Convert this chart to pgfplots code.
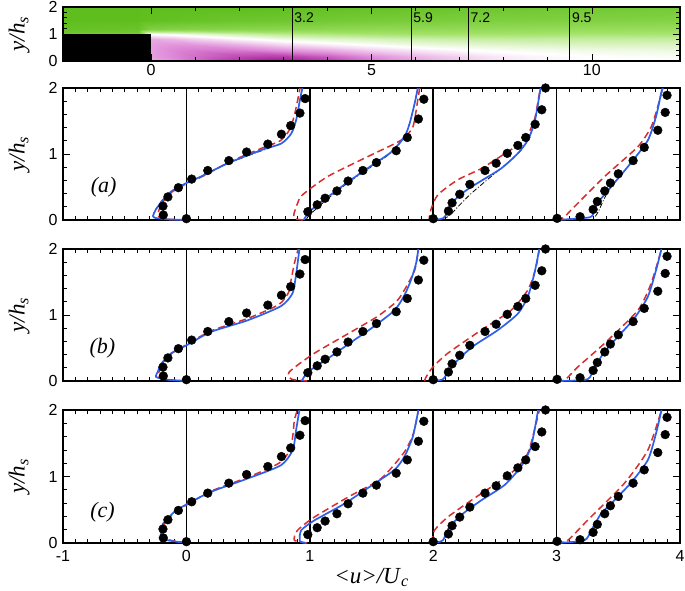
\documentclass[border=0pt]{standalone}
\usepackage{fontspec}
\setmainfont{Liberation Serif}
\setsansfont{Liberation Sans}
\usepackage{pgfplots}
\usepackage{pgfplotstable}
\pgfplotsset{compat=1.18}
\definecolor{bl}{RGB}{45,95,235}
\definecolor{rd}{RGB}{215,45,45}

\pgfplotstableread{
x y
0 0.02
-0.187 0.076
-0.19 0.21
-0.15 0.35
-0.065 0.49
0.043 0.62
0.173 0.75
0.344 0.90
0.488 1.03
0.66 1.15
0.77 1.30
0.845 1.43
0.92 1.62
0.962 1.84
0.984 0.126
1.06 0.23
1.124 0.33
1.22 0.44
1.31 0.59
1.43 0.75
1.54 0.87
1.70 1.05
1.79 1.25
1.88 1.53
1.924 1.83
2.0 0.02
2.123 0.136
2.153 0.26
2.215 0.39
2.297 0.54
2.42 0.75
2.51 0.86
2.60 1.01
2.686 1.13
2.75 1.25
2.826 1.45
2.88 1.67
2.91 2.0
3.004 0.025
3.19 0.05
3.296 0.16
3.33 0.28
3.39 0.44
3.436 0.56
3.50 0.70
3.62 0.90
3.71 1.10
3.82 1.36
3.88 1.63
3.895 1.89
}\expdata

\pgfplotstableread{
x y v
-2 0 -0.35
-0.3 0 -0.35
0 0 -0.35
0.5 0 -0.45
1 0 -0.6
2 0 -0.85
3 0 -1.0
4 0 -0.85
5 0 -0.6
6 0 -0.4
7 0 -0.25
8 0 -0.12
9 0 -0.05
10 0 -0.02
11 0 0.0
12 0 0.0
-2 0.2 -0.4
-0.3 0.2 -0.4
0 0.2 -0.4
0.5 0.2 -0.5
1 0.2 -0.6
2 0.2 -0.75
3 0.2 -0.8
4 0.2 -0.65
5 0.2 -0.45
6 0.2 -0.3
7 0.2 -0.18
8 0.2 -0.08
9 0.2 -0.03
10 0.2 0.0
11 0.2 0.02
12 0.2 0.03
-2 0.4 -0.4
-0.3 0.4 -0.4
0 0.4 -0.4
0.5 0.4 -0.5
1 0.4 -0.55
2 0.4 -0.55
3 0.4 -0.45
4 0.4 -0.35
5 0.4 -0.2
6 0.4 -0.1
7 0.4 -0.02
8 0.4 0.03
9 0.4 0.06
10 0.4 0.08
11 0.4 0.09
12 0.4 0.1
-2 0.6 -0.4
-0.3 0.6 -0.4
0 0.6 -0.4
0.5 0.6 -0.45
1 0.6 -0.45
2 0.6 -0.35
3 0.6 -0.2
4 0.6 -0.1
5 0.6 0.0
6 0.6 0.08
7 0.6 0.12
8 0.6 0.15
9 0.6 0.17
10 0.6 0.18
11 0.6 0.18
12 0.6 0.18
-2 0.8 -0.35
-0.3 0.8 -0.35
0 0.8 -0.35
0.5 0.8 -0.3
1 0.8 -0.2
2 0.8 -0.05
3 0.8 0.08
4 0.8 0.15
5 0.8 0.2
6 0.8 0.25
7 0.8 0.28
8 0.8 0.3
9 0.8 0.3
10 0.8 0.3
11 0.8 0.3
12 0.8 0.3
-2 1.0 0.85
-0.3 1.0 0.8
0 1.0 0.0
0.5 1.0 0.05
1 1.0 0.12
2 1.0 0.25
3 1.0 0.35
4 1.0 0.4
5 1.0 0.45
6 1.0 0.47
7 1.0 0.47
8 1.0 0.47
9 1.0 0.46
10 1.0 0.45
11 1.0 0.45
12 1.0 0.44
-2 1.2 0.95
-0.3 1.2 0.92
0 1.2 0.75
0.5 1.2 0.72
1 1.2 0.7
2 1.2 0.68
3 1.2 0.66
4 1.2 0.64
5 1.2 0.62
6 1.2 0.61
7 1.2 0.6
8 1.2 0.59
9 1.2 0.58
10 1.2 0.57
11 1.2 0.56
12 1.2 0.55
-2 1.5 1
-0.3 1.5 1
0 1.5 0.98
0.5 1.5 0.96
1 1.5 0.94
2 1.5 0.9
3 1.5 0.88
4 1.5 0.85
5 1.5 0.82
6 1.5 0.8
7 1.5 0.78
8 1.5 0.76
9 1.5 0.75
10 1.5 0.74
11 1.5 0.73
12 1.5 0.72
-2 2.0 1
-0.3 2.0 1
0 2.0 1
0.5 2.0 1
1 2.0 1
2 2.0 1
3 2.0 0.98
4 2.0 0.96
5 2.0 0.94
6 2.0 0.92
7 2.0 0.9
8 2.0 0.88
9 2.0 0.86
10 2.0 0.85
11 2.0 0.84
12 2.0 0.83
}\field

\pgfplotsset{
 every axis/.append style={
  scale only axis, width=617pt,
  tick align=inside, major tick length=7pt, minor tick length=4pt,
  axis line style={line width=1.1pt},
  every tick/.style={black, line width=0.7pt},
  tick label style={font=\fontsize{16}{16}\selectfont\sffamily},
  yticklabel style={xshift=-2pt},
  /pgf/number format/assume math mode=true,
  ylabel={\textit{y/h}\textsubscript{\textit{s}}},
  ylabel style={font=\fontsize{23}{23}\selectfont, at={(axis description cs:-0.071,0.5)}, anchor=center},
 },
 panel/.style={height=132pt, xmin=-1, xmax=4, ymin=0, ymax=2, xtick={-1,0,1,2,3,4}, ytick={0,1,2}, minor x tick num=9, minor y tick num=4, clip=false},
 bline/.style={bl, line width=1.7pt, smooth, tension=0.4, no markers},
 rline/.style={rd, line width=1.5pt, dash pattern=on 7pt off 4pt, smooth, tension=0.4, no markers},
 kline/.style={black, line width=0.8pt, dash pattern=on 5pt off 2pt on 1pt off 2pt, smooth, tension=0.4, no markers},
 dots/.style={only marks, mark=*, mark size=4.4pt, black},
 vline/.style={black, line width=1.5pt, forget plot},
}
\tikzset{plab/.style={font=\fontsize{22}{22}\selectfont\itshape},
 slab/.style={anchor=west, font=\fontsize{14}{14}\selectfont\sffamily, inner sep=2pt}}

\begin{document}
\begin{tikzpicture}
\useasboundingbox (0,0) rectangle (685pt,-591pt);

% ---------- strip ----------
\begin{axis}[at={(63pt,-61pt)}, anchor=south west, height=54pt,
  xmin=-2, xmax=12, ymin=0, ymax=2, xtick={0,5,10}, ytick={0,1,2},
  minor x tick num=4, minor y tick num=4, axis on top,
  point meta min=-1, point meta max=1,
  colormap={gm}{rgb255=(160,15,145) rgb255=(222,135,215) rgb255=(255,255,255) rgb255=(160,225,100) rgb255=(95,190,30)}]
\addplot[surf, shader=interp, mesh/cols=16, point meta=explicit] table[x=x, y=y, meta=v] {\field};
\addplot[draw=none, fill=black] coordinates {(-2,0) (0,0) (0,1) (-2,1)} -- cycle;
\addplot[vline, line width=1.3pt] coordinates {(3.2,0) (3.2,2)};
\addplot[vline, line width=1.3pt] coordinates {(5.9,0) (5.9,2)};
\addplot[vline, line width=1.3pt] coordinates {(7.2,0) (7.2,2)};
\addplot[vline, line width=1.3pt] coordinates {(9.5,0) (9.5,2)};
\node[slab] at (axis cs:3.2,1.6) {3.2};
\node[slab] at (axis cs:5.9,1.6) {5.9};
\node[slab] at (axis cs:7.2,1.6) {7.2};
\node[slab] at (axis cs:9.5,1.6) {9.5};
\end{axis}

% ---------- (a) ----------
\begin{axis}[panel, at={(63pt,-220pt)}, anchor=south west, xticklabels={}]
\addplot[vline] coordinates {(0,0) (0,2)};
\addplot[vline] coordinates {(1,0) (1,2)};
\addplot[vline] coordinates {(2,0) (2,2)};
\addplot[vline] coordinates {(3,0) (3,2)};
% dash-dot
\addplot[kline] coordinates {(0,0) (-0.15,0.01) (-0.25,0.03) (-0.27,0.07) (-0.25,0.16) (-0.2,0.29) (-0.12,0.44) (0,0.56) (0.12,0.66) (0.34,0.86) (0.61,1.05) (0.77,1.16) (0.85,1.31) (0.89,1.52) (0.92,1.82) (0.94,2.0)};
\addplot[kline] coordinates {(0.97,0) (1.0,0.08) (1.15,0.33) (1.335,0.6) (1.5,0.81) (1.66,1.02) (1.767,1.26) (1.81,1.47) (1.85,1.77) (1.875,2.0)};
\addplot[kline] coordinates {(2,0) (2.12,0.05) (2.2,0.2) (2.307,0.40) (2.47,0.66) (2.6,0.86) (2.7,1.03) (2.77,1.22) (2.82,1.47) (2.85,1.77) (2.87,2.0)};
\addplot[kline] coordinates {(3,0) (3.27,0.0) (3.33,0.1) (3.38,0.3) (3.44,0.5) (3.60,0.86) (3.74,1.21) (3.806,1.57) (3.847,1.92) (3.86,2.0)};
% red
\addplot[rline] coordinates {(0,0) (-0.15,0.01) (-0.22,0.04) (-0.23,0.1) (-0.2,0.25) (-0.12,0.42) (0,0.55) (0.13,0.66) (0.35,0.88) (0.6,1.08) (0.76,1.2) (0.83,1.35) (0.87,1.55) (0.9,1.8) (0.92,2.0)};
\addplot[rline] coordinates {(0.945,0) (0.88,0.02) (0.87,0.08) (0.9,0.25) (0.94,0.38) (1.146,0.66) (1.497,0.985) (1.74,1.21) (1.835,1.41) (1.875,1.82) (1.89,2.0)};
\addplot[rline] coordinates {(2.0,0) (1.97,0.03) (1.98,0.15) (2.037,0.38) (2.2,0.61) (2.39,0.78) (2.6,1.03) (2.74,1.21) (2.82,1.52) (2.856,1.87) (2.87,2.0)};
\addplot[rline] coordinates {(3.0,0) (3.06,0.04) (3.117,0.15) (3.39,0.66) (3.658,1.11) (3.766,1.41) (3.82,1.72) (3.86,2.0)};
% blue
\addplot[bline] coordinates {(0,0) (-0.15,0.01) (-0.25,0.03) (-0.27,0.06) (-0.25,0.15) (-0.2,0.28) (-0.125,0.43) (0,0.56) (0.12,0.66) (0.336,0.86) (0.607,1.06) (0.77,1.16) (0.85,1.31) (0.89,1.52) (0.92,1.82) (0.94,2.0)};
\addplot[bline] coordinates {(0.95,0.0) (0.97,0.06) (0.99,0.12) (1.146,0.35) (1.335,0.61) (1.497,0.82) (1.66,1.03) (1.767,1.26) (1.81,1.47) (1.85,1.77) (1.875,2.0)};
\addplot[bline] coordinates {(2,0) (2.078,0.025) (2.12,0.12) (2.145,0.25) (2.253,0.43) (2.36,0.56) (2.55,0.78) (2.686,1.01) (2.767,1.21) (2.82,1.47) (2.85,1.77) (2.87,2.0)};
\addplot[bline] coordinates {(3,0) (3.266,0.04) (3.3,0.12) (3.32,0.23) (3.44,0.5) (3.60,0.86) (3.74,1.21) (3.806,1.57) (3.847,1.92) (3.86,2.0)};
\addplot[dots] table[x=x, y=y] {\expdata};
\node[plab] at (axis cs:-0.67,0.5) {(a)};
\end{axis}

% ---------- (b) ----------
\begin{axis}[panel, at={(63pt,-381pt)}, anchor=south west, xticklabels={}]
\addplot[vline] coordinates {(0,0) (0,2)};
\addplot[vline] coordinates {(1,0) (1,2)};
\addplot[vline] coordinates {(2,0) (2,2)};
\addplot[vline] coordinates {(3,0) (3,2)};
\addplot[rline] coordinates {(0,0) (-0.15,0.02) (-0.23,0.06) (-0.22,0.15) (-0.19,0.28) (-0.11,0.43) (0,0.55) (0.2,0.76) (0.5,0.95) (0.75,1.16) (0.83,1.35) (0.848,1.53) (0.875,1.78) (0.906,2.0)};
\addplot[rline] coordinates {(0.98,0) (0.85,0.03) (0.835,0.14) (1.037,0.42) (1.36,0.77) (1.55,0.98) (1.7,1.2) (1.767,1.38) (1.85,1.68) (1.88,2.0)};
\addplot[rline] coordinates {(1.93,0.0) (1.942,0.06) (1.997,0.21) (2.118,0.42) (2.388,0.77) (2.63,1.07) (2.767,1.38) (2.83,1.7) (2.86,2.0)};
\addplot[rline] coordinates {(3.0,0) (3.07,0.02) (3.17,0.21) (3.388,0.57) (3.658,1.07) (3.766,1.48) (3.85,2.0)};
\addplot[bline] coordinates {(0,0) (-0.15,0.02) (-0.245,0.06) (-0.23,0.15) (-0.205,0.26) (-0.124,0.42) (0,0.54) (0.2,0.745) (0.497,0.92) (0.767,1.135) (0.86,1.33) (0.89,1.63) (0.916,2.0)};
\addplot[bline] coordinates {(0.935,0) (0.984,0.137) (1.146,0.34) (1.36,0.62) (1.5,0.80) (1.686,1.07) (1.767,1.30) (1.82,1.53) (1.861,1.78) (1.88,2.0)};
\addplot[bline] coordinates {(2,0) (2.078,0.026) (2.13,0.16) (2.21,0.34) (2.334,0.54) (2.523,0.77) (2.686,1.02) (2.767,1.28) (2.82,1.63) (2.86,2.0)};
\addplot[bline] coordinates {(3,0) (3.25,0.026) (3.306,0.21) (3.388,0.44) (3.496,0.67) (3.63,0.95) (3.74,1.28) (3.806,1.68) (3.85,2.0)};
\addplot[dots] table[x=x, y=y] {\expdata};
\node[plab] at (axis cs:-0.68,0.49) {(b)};
\end{axis}

% ---------- (c) ----------
\begin{axis}[panel, at={(63pt,-543pt)}, anchor=south west, height=133pt,
  xticklabel style={yshift=-4pt},
  xlabel={\textit{<u>/U}\textsubscript{\textit{c}}},
  xlabel style={font=\fontsize{23}{23}\selectfont, at={(axis description cs:0.5,-0.26)}, anchor=center}]
\addplot[vline] coordinates {(0,0) (0,2)};
\addplot[vline] coordinates {(1,0) (1,2)};
\addplot[vline] coordinates {(2,0) (2,2)};
\addplot[vline] coordinates {(3,0) (3,2)};
\addplot[rline] coordinates {(0,0) (-0.15,0.05) (-0.2,0.1) (-0.19,0.25) (-0.1,0.46) (0,0.57) (0.2,0.78) (0.5,0.99) (0.75,1.2) (0.84,1.4) (0.865,1.65) (0.875,1.85) (0.9,2.0)};
\addplot[rline] coordinates {(0.98,0) (0.875,0.04) (0.9,0.19) (1.037,0.39) (1.31,0.69) (1.578,0.97) (1.767,1.37) (1.84,1.65) (1.88,2.0)};
\addplot[rline] coordinates {(1.99,0.0) (2.01,0.19) (2.118,0.39) (2.307,0.64) (2.63,1.05) (2.767,1.35) (2.86,2.0)};
\addplot[rline] coordinates {(3.0,0) (3.09,0.04) (3.25,0.34) (3.55,0.90) (3.74,1.40) (3.85,2.0)};
\addplot[bline] coordinates {(0,0) (-0.15,0.04) (-0.205,0.09) (-0.2,0.2) (-0.19,0.29) (-0.097,0.47) (0,0.58) (0.2,0.77) (0.497,0.97) (0.767,1.17) (0.862,1.40) (0.889,1.70) (0.916,2.0)};
\addplot[bline] coordinates {(0.97,0) (0.92,0.03) (0.93,0.19) (1.037,0.34) (1.28,0.59) (1.497,0.86) (1.686,1.10) (1.767,1.30) (1.835,1.60) (1.88,2.0)};
\addplot[bline] coordinates {(2,0) (2.078,0.04) (2.13,0.24) (2.24,0.44) (2.388,0.64) (2.577,0.87) (2.712,1.15) (2.793,1.45) (2.85,2.0)};
\addplot[bline] coordinates {(3,0) (3.225,0.04) (3.28,0.19) (3.36,0.44) (3.44,0.59) (3.60,0.90) (3.74,1.25) (3.806,1.65) (3.85,2.0)};
\addplot[dots] table[x=x, y=y] {\expdata};
\node[plab] at (axis cs:-0.68,0.47) {(c)};
\end{axis}
\end{tikzpicture}
\end{document}
